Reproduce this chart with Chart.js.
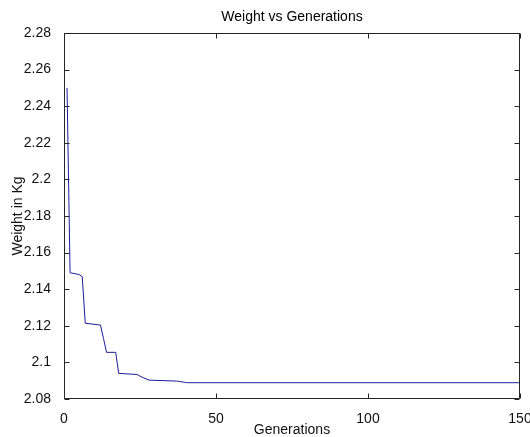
<!DOCTYPE html>
<html>
<head>
<meta charset="utf-8">
<script src="https://cdn.jsdelivr.net/npm/chart.js@4"></script>
<style>
  html, body { margin: 0; padding: 0; background: #fff; }
  #wrap { width: 530px; height: 437px; }
</style>
</head>
<body>
<div id="wrap"><canvas id="weightChart" width="530" height="437"></canvas></div>
<script>
// Step points of the best weight per generation
const generations = [1, 2, 5, 6, 7, 12, 13, 14, 17, 18, 24, 25, 26, 27, 28, 37, 38, 40, 41, 150];
const weights = [2.250, 2.149, 2.148, 2.1468, 2.1214, 2.1204, 2.113, 2.1055, 2.1055, 2.094,
  2.0934, 2.0925, 2.0917, 2.091, 2.0903, 2.0898, 2.0896, 2.089, 2.0889, 2.0889];

const xTicks = [0, 50, 100, 150];
const yTicks = [2.08, 2.10, 2.12, 2.14, 2.16, 2.18, 2.20, 2.22, 2.24, 2.26, 2.28];
const TITLE = 'Weight vs Generations';

const FONT = { family: '"Liberation Sans", Arial, sans-serif', size: 14, lineHeight: 1.2 };
const AXIS_COLOR = '#262626';
const TICK_LEN = 5;

// MATLAB-style box with inward ticks on all four sides, title centred over the axes
const boxPlugin = {
  id: 'matlabBox',
  afterDatasetsDraw(chart) {
    const { ctx, chartArea: a, scales: { x, y } } = chart;
    const L = Math.round(a.left) + 0.5, R = Math.round(a.right) - 0.5;
    const T = Math.round(a.top) + 0.5, B = Math.round(a.bottom) - 0.5;
    ctx.save();
    ctx.strokeStyle = AXIS_COLOR;
    ctx.lineWidth = 1;
    ctx.beginPath();
    ctx.rect(L, T, R - L, B - T);
    xTicks.forEach(v => {
      const px = Math.round(x.getPixelForValue(v)) + 0.5;
      ctx.moveTo(px, B); ctx.lineTo(px, B - TICK_LEN);
      ctx.moveTo(px, T); ctx.lineTo(px, T + TICK_LEN);
    });
    yTicks.forEach(v => {
      const py = Math.round(y.getPixelForValue(v)) + 0.5;
      ctx.moveTo(L, py); ctx.lineTo(L + TICK_LEN, py);
      ctx.moveTo(R, py); ctx.lineTo(R - TICK_LEN, py);
    });
    ctx.stroke();

    ctx.fillStyle = '#000';
    ctx.font = `${FONT.size}px ${FONT.family}`;
    ctx.textAlign = 'center';
    ctx.textBaseline = 'middle';
    ctx.fillText(TITLE, (a.left + a.right) / 2, 17);
    ctx.restore();
  },
};

new Chart(document.getElementById('weightChart').getContext('2d'), {
  type: 'line',
  data: {
    datasets: [{
      data: generations.map((g, i) => ({ x: g, y: weights[i] })),
      borderColor: '#1c1c9c',
      borderWidth: 1,
      pointRadius: 0,
      tension: 0,
      fill: false,
    }],
  },
  options: {
    responsive: false,
    animation: false,
    devicePixelRatio: 1,
    layout: { padding: { left: 0, right: 10, top: 33, bottom: 0 } },
    plugins: {
      legend: { display: false },
      tooltip: { enabled: false },
      title: { display: false },
    },
    scales: {
      x: {
        type: 'linear',
        min: 0,
        max: 150,
        grid: { display: false },
        border: { display: false },
        ticks: { color: '#111', font: FONT, padding: 4, maxRotation: 0 },
        title: { display: true, text: 'Generations', color: '#111', font: FONT, padding: { top: 0, bottom: -1.5 } },
        afterBuildTicks: s => { s.ticks = xTicks.map(v => ({ value: v })); },
        afterFit: s => { s.height = 38; s.paddingLeft = 0; s.paddingRight = 0; },
      },
      y: {
        min: 2.08,
        max: 2.28,
        grid: { display: false },
        border: { display: false },
        ticks: {
          color: '#111',
          font: FONT,
          padding: 5,
          callback: v => String(Number(v.toFixed(2))),
        },
        title: { display: true, text: 'Weight in Kg', color: '#111', font: FONT, padding: { top: 10, bottom: 0 } },
        afterBuildTicks: s => { s.ticks = yTicks.map(v => ({ value: v })); },
        afterFit: s => { s.width = 64; s.paddingTop = 0; s.paddingBottom = 0; },
      },
    },
  },
  plugins: [boxPlugin],
});
</script>
</body>
</html>
